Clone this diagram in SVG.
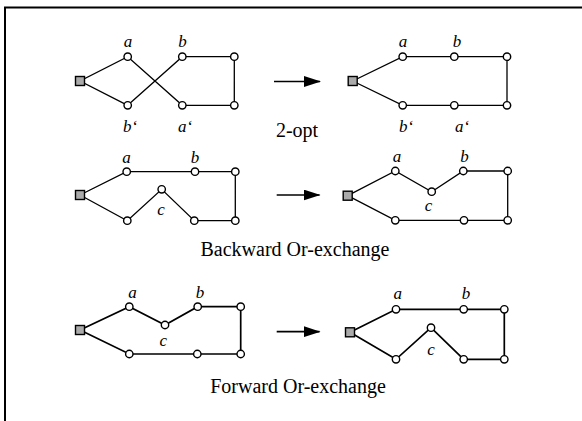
<svg xmlns="http://www.w3.org/2000/svg" width="582" height="421" viewBox="0 0 582 421">
<style>
.e{stroke:#000;stroke-width:1.3;fill:none}
.e2{stroke:#000;stroke-width:1.7;fill:none}
.n{fill:#fff;stroke:#000;stroke-width:1.4}
.d{fill:#aaa;stroke:#000;stroke-width:1.4}
.l{font-family:"Liberation Serif",serif;font-style:italic;font-size:17px;text-anchor:middle}
.t{font-family:"Liberation Serif",serif;font-size:20px;text-anchor:middle}
.ar{stroke:#000;stroke-width:1.7}
</style>
<defs>
<marker id="ah" markerWidth="17" markerHeight="11" refX="16" refY="5.5" orient="auto" markerUnits="userSpaceOnUse"><path d="M0,0 L17,5.5 L0,11 Z" fill="#000"/></marker>
</defs>
<path d="M5,421 V7.5 H582" fill="none" stroke="#000" stroke-width="2"/>
<g id="connectors">
<polyline class="e" points="127.7,105.3 80,81 127.7,56.7 182.3,105.3 234.3,105.3 234.3,56.7 182.3,56.7 127.7,105.3"/>
<polyline class="e" points="352.7,81 402.7,56.7 454.3,56.7 507,56.7 507,105.3 454.3,105.3 402.7,105.3 352.7,81"/>
<polyline class="e" points="80,195 126.7,171.7 195,171.7 235.3,171.7 235.3,220.7 194.3,220.7 161.7,189.3 127.3,220.7 80,195"/>
<polyline class="e" points="347.7,195.7 395.3,171 431.7,191.7 463.3,171 507.7,171 507.7,220.3 464,220.3 395.3,220.3 347.7,195.7"/>
<polyline class="e2" points="80,330 129.3,306.7 165,325 197.7,306.7 240.7,306.7 240.7,354 197.3,354 129.3,354 80,330"/>
<polyline class="e2" points="350,332.3 396,309.3 463.7,309.3 504.3,309.3 504.3,359.3 463.7,359.3 431,327.7 396,359.3 350,332.3"/>
<line class="ar" x1="274" y1="81.5" x2="320" y2="81.5" marker-end="url(#ah)"/>
<line class="ar" x1="276.7" y1="195" x2="319.5" y2="195" marker-end="url(#ah)"/>
<line class="ar" x1="276.7" y1="331.7" x2="319.5" y2="331.7" marker-end="url(#ah)"/>
</g>
<g id="p1-left">
<rect class="d" x="75.5" y="76.5" width="9" height="9"/>
<circle class="n" cx="127.7" cy="56.7" r="3.7"/><circle class="n" cx="182.3" cy="56.7" r="3.7"/><circle class="n" cx="234.3" cy="56.7" r="3.7"/>
<circle class="n" cx="127.7" cy="105.3" r="3.7"/><circle class="n" cx="182.3" cy="105.3" r="3.7"/><circle class="n" cx="234.3" cy="105.3" r="3.7"/>
<text class="l" x="128" y="47">a</text><text class="l" x="182.5" y="47">b</text>
<text class="l" x="130" y="132">b‘</text><text class="l" x="185" y="132">a‘</text>
</g>
<g id="p1-right">
<rect class="d" x="348.2" y="76.5" width="9" height="9"/>
<circle class="n" cx="402.7" cy="56.7" r="3.7"/><circle class="n" cx="454.3" cy="56.7" r="3.7"/><circle class="n" cx="507" cy="56.7" r="3.7"/>
<circle class="n" cx="402.7" cy="105.3" r="3.7"/><circle class="n" cx="454.3" cy="105.3" r="3.7"/><circle class="n" cx="507" cy="105.3" r="3.7"/>
<text class="l" x="403" y="47">a</text><text class="l" x="457" y="47">b</text>
<text class="l" x="406" y="132">b‘</text><text class="l" x="462" y="132">a‘</text>
</g>
<g id="p2-left">
<rect class="d" x="75.5" y="190.5" width="9" height="9"/>
<circle class="n" cx="126.7" cy="171.7" r="3.7"/><circle class="n" cx="195" cy="171.7" r="3.7"/><circle class="n" cx="235.3" cy="171.7" r="3.7"/>
<circle class="n" cx="161.7" cy="189.3" r="3.7"/>
<circle class="n" cx="127.3" cy="220.7" r="3.7"/><circle class="n" cx="194.3" cy="220.7" r="3.7"/><circle class="n" cx="235.3" cy="220.7" r="3.7"/>
<text class="l" x="126.5" y="162.5">a</text><text class="l" x="195" y="162.5">b</text><text class="l" x="161" y="215">c</text>
</g>
<g id="p2-right">
<rect class="d" x="343.2" y="191.2" width="9" height="9"/>
<circle class="n" cx="395.3" cy="171" r="3.7"/><circle class="n" cx="431.7" cy="191.7" r="3.7"/><circle class="n" cx="463.3" cy="171" r="3.7"/><circle class="n" cx="507.7" cy="171" r="3.7"/>
<circle class="n" cx="395.3" cy="220.3" r="3.7"/><circle class="n" cx="464" cy="220.3" r="3.7"/><circle class="n" cx="507.7" cy="220.3" r="3.7"/>
<text class="l" x="397" y="162">a</text><text class="l" x="464.5" y="162">b</text><text class="l" x="428.5" y="210.5">c</text>
</g>
<g id="p3-left">
<rect class="d" x="75.5" y="325.5" width="9" height="9"/>
<circle class="n" cx="129.3" cy="306.7" r="3.7"/><circle class="n" cx="165" cy="325" r="3.7"/><circle class="n" cx="197.7" cy="306.7" r="3.7"/><circle class="n" cx="240.7" cy="306.7" r="3.7"/>
<circle class="n" cx="129.3" cy="354" r="3.7"/><circle class="n" cx="197.3" cy="354" r="3.7"/><circle class="n" cx="240.7" cy="354" r="3.7"/>
<text class="l" x="132.5" y="298">a</text><text class="l" x="200" y="298">b</text><text class="l" x="163.3" y="346">c</text>
</g>
<g id="p3-right">
<rect class="d" x="345.5" y="327.8" width="9" height="9"/>
<circle class="n" cx="396" cy="309.3" r="3.7"/><circle class="n" cx="463.7" cy="309.3" r="3.7"/><circle class="n" cx="504.3" cy="309.3" r="3.7"/>
<circle class="n" cx="431" cy="327.7" r="3.7"/>
<circle class="n" cx="396" cy="359.3" r="3.7"/><circle class="n" cx="463.7" cy="359.3" r="3.7"/><circle class="n" cx="504.3" cy="359.3" r="3.7"/>
<text class="l" x="397.7" y="299">a</text><text class="l" x="466" y="299">b</text><text class="l" x="431" y="355">c</text>
</g>
<g id="captions">
<text class="t" x="297" y="137">2-opt</text>
<text class="t" x="295" y="256">Backward Or-exchange</text>
<text class="t" x="298" y="393">Forward Or-exchange</text>
</g>
</svg>
